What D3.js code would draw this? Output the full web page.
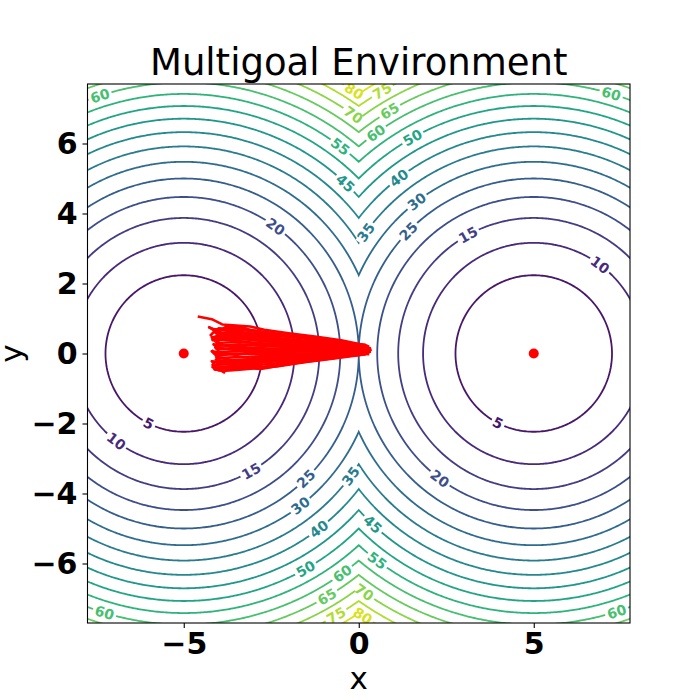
<!DOCTYPE html>
<html>
<head>
<meta charset="utf-8">
<script src="https://cdn.jsdelivr.net/npm/d3@7"></script>
<style>
  body { margin: 0; background: #fff; }
  text { font-family: "DejaVu Sans", sans-serif; }
</style>
</head>
<body>
<script>
// goal positions of the environment
var goals = [[-5, 0], [5, 0]];
var levels = [5, 10, 15, 20, 25, 30, 35, 40, 45, 50, 55, 60, 65, 70, 75, 80];
var xTicks = [-5, 0, 5];
var yTicks = [-6, -4, -2, 0, 2, 4, 6];

// where each contour label sits: [level, goal index, angle in degrees around that goal]
var labelSpots = [
  [80, 0, 57], [70, 0, 54.6], [55, 0, 52.9], [45, 0, 46.5], [20, 0, 54.1], [60, 0, 108],
  [5, 0, -116.6], [10, 0, -127.6], [15, 0, -60.2], [25, 0, -45.7], [35, 0, -36.3],
  [30, 0, -52.5], [40, 0, -52.4], [50, 0, -60.5], [60, 0, -54.2], [65, 0, -59.5],
  [75, 0, -59.8], [60, 0, -107],
  [75, 1, 120], [65, 1, 120.7], [60, 1, 125.6], [50, 1, 119.3], [40, 1, 127.5],
  [35, 1, 144.2], [30, 1, 127.6], [25, 1, 135.7], [15, 1, 119], [10, 1, 53.2],
  [5, 1, -117.2], [20, 1, -126.9], [60, 1, 73.4], [45, 1, -133.3], [55, 1, -127.1],
  [70, 1, -125.4], [80, 1, -123.1], [60, 1, -72.2]
];

// sampled trajectories (x, y)
var paths = [
  [[0.25,0.22],[-0.5,0.38],[-1.2,0.48],[-2.0,0.58],[-2.7,0.68],[-3.1,0.77],[-3.9,0.83],[-4.2,0.98],[-4.6,1.06]],
  [[0.3,0.2],[-0.5,0.34],[-1.3,0.45],[-2.0,0.52],[-2.9,0.6],[-3.3,0.74],[-3.8,0.76],[-4.0,0.62],[-4.3,0.76]],
  [[0.2,0.25],[-0.6,0.32],[-1.2,0.4],[-2.1,0.48],[-2.8,0.55],[-3.5,0.62],[-4.0,0.68],[-4.1,0.55]],
  [[0.15,0.18],[-0.4,0.25],[-1.1,0.33],[-1.9,0.40],[-2.7,0.48],[-3.4,0.55],[-4.0,0.6],[-3.9,0.45]],
  [[0.35,0.15],[-0.5,0.22],[-1.3,0.28],[-2.0,0.35],[-2.9,0.42],[-3.5,0.50],[-4.05,0.52],[-4.1,0.40]],
  [[0.1,0.12],[-0.6,0.18],[-1.2,0.25],[-2.1,0.30],[-2.8,0.36],[-3.6,0.44],[-4.0,0.38],[-4.1,0.3]],
  [[0.25,0.1],[-0.4,0.14],[-1.1,0.2],[-2.0,0.25],[-2.9,0.3],[-3.5,0.33],[-4.05,0.3],[-4.0,0.2]],
  [[0.3,0.08],[-0.5,0.1],[-1.3,0.15],[-2.1,0.19],[-2.8,0.22],[-3.4,0.26],[-4.0,0.22],[-4.1,0.12]],
  [[0.2,0.05],[-0.6,0.07],[-1.2,0.1],[-2.0,0.12],[-2.7,0.15],[-3.5,0.16],[-4.0,0.12],[-4.05,0.02]],
  [[0.15,0.02],[-0.5,0.04],[-1.1,0.05],[-1.9,0.06],[-2.8,0.08],[-3.4,0.07],[-4.05,0.04],[-4.0,-0.06]],
  [[0.35,0.05],[-0.4,0.0],[-1.2,0.0],[-2.0,0.0],[-2.9,0.0],[-3.6,-0.02],[-4.0,-0.05],[-4.1,-0.12]],
  [[0.25,0.0],[-0.5,-0.02],[-1.3,-0.04],[-2.1,-0.06],[-2.8,-0.08],[-3.4,-0.1],[-4.05,-0.13],[-3.95,-0.2]],
  [[0.1,-0.02],[-0.6,-0.05],[-1.2,-0.08],[-2.0,-0.12],[-2.7,-0.15],[-3.5,-0.18],[-4.0,-0.2],[-4.1,-0.28]],
  [[0.3,0.02],[-0.5,-0.06],[-1.1,-0.1],[-1.9,-0.16],[-2.8,-0.2],[-3.4,-0.24],[-4.05,-0.27],[-4.0,-0.35]],
  [[0.2,-0.03],[-0.4,-0.08],[-1.3,-0.13],[-2.0,-0.2],[-2.9,-0.26],[-3.6,-0.3],[-4.1,-0.33],[-4.0,-0.4]],
  [[0.0,-0.03],[-0.6,-0.1],[-1.2,-0.17],[-2.1,-0.26],[-2.8,-0.32],[-3.3,-0.34],[-3.9,-0.38],[-4.1,-0.42]],
  [[0.15,0.0],[-0.5,-0.1],[-1.0,-0.17],[-2.0,-0.3],[-2.7,-0.37],[-3.2,-0.39],[-3.8,-0.42],[-3.85,-0.54],[-4.05,-0.4]],
  [[0.3,0.12],[-0.5,0.16],[-1.2,0.2],[-2.0,0.28],[-2.8,0.4],[-3.3,0.48],[-3.9,0.7],[-4.1,0.66],[-4.3,0.76]],
  [[0.2,0.15],[-0.6,0.26],[-1.4,0.33],[-2.2,0.38],[-3.0,0.46],[-3.5,0.58],[-4.0,0.5],[-4.05,0.45]],
  [[0.1,0.08],[-0.5,0.12],[-1.2,0.18],[-2.0,0.22],[-2.8,0.28],[-3.5,0.36],[-4.1,0.42],[-3.95,0.26]],
  [[0.3,-0.02],[-0.6,0.02],[-1.3,0.06],[-2.1,0.09],[-2.8,0.11],[-3.5,0.1],[-4.1,0.18],[-4.0,0.08]],
  [[0.37,0.11],[-0.4,-0.04],[-1.2,-0.06],[-2.0,-0.09],[-2.9,-0.12],[-3.5,-0.22],[-4.0,-0.1],[-4.1,-0.2]],
  [[0.2,0.18],[-0.5,0.3],[-1.3,0.42],[-2.1,0.53],[-2.9,0.62],[-3.4,0.68],[-4.0,0.72],[-4.15,0.6]],
  [[0.25,0.12],[-0.6,0.2],[-1.4,0.3],[-2.2,0.42],[-3.0,0.54],[-3.6,0.66],[-4.2,0.7],[-4.0,0.58]],
  [[0.1,0.05],[-0.6,0.1],[-1.3,0.22],[-2.0,0.32],[-2.8,0.46],[-3.4,0.4],[-4.1,0.48],[-4.2,0.36]],
  [[0.3,0.04],[-0.5,0.08],[-1.2,0.12],[-2.2,0.2],[-3.0,0.24],[-3.6,0.2],[-4.15,0.26],[-4.0,0.14]],
  [[0.2,0.0],[-0.6,-0.03],[-1.4,-0.02],[-2.2,0.02],[-3.0,0.05],[-3.5,-0.04],[-4.2,0.06],[-4.05,-0.08]],
  [[0.3,0.06],[-0.4,-0.07],[-1.3,-0.12],[-2.2,-0.18],[-3.0,-0.28],[-3.6,-0.38],[-4.1,-0.46],[-4.2,-0.36]],
  [[0.05,-0.04],[-0.7,-0.14],[-1.5,-0.24],[-2.3,-0.36],[-2.9,-0.42],[-3.4,-0.46],[-3.9,-0.5],[-4.15,-0.44]],
  [[0.25,0.03],[-0.5,-0.08],[-1.4,-0.2],[-2.1,-0.32],[-2.8,-0.44],[-3.3,-0.4],[-4.0,-0.48],[-4.2,-0.3]],
  [[0.15,0.1],[-0.5,0.05],[-1.3,-0.02],[-2.0,-0.04],[-2.8,-0.02],[-3.5,0.0],[-4.1,-0.02],[-4.2,0.1]],
  [[0.3,0.16],[-0.6,0.28],[-1.5,0.42],[-2.3,0.56],[-3.0,0.66],[-3.5,0.7],[-4.1,0.66],[-4.25,0.5]],
  [[0.2,0.08],[-0.6,0.0],[-1.4,-0.08],[-2.1,-0.14],[-3.0,-0.18],[-3.7,-0.26],[-4.2,-0.22],[-4.1,-0.34]],
  [[0.1,0.14],[-0.7,0.2],[-1.5,0.27],[-2.4,0.34],[-3.1,0.4],[-3.7,0.52],[-4.2,0.46],[-4.1,0.34]]
];

var W = 700, H = 700;
var mLeft = 87.5, mRight = 630, mTop = 84, mBottom = 623;

var svg = d3.select("body").append("svg").attr("width", W).attr("height", H);

var x = d3.scaleLinear().domain([-7.75, 7.75]).range([mLeft, mRight]);
var y = d3.scaleLinear().domain([-7.7, 7.7]).range([mBottom, mTop]);
var color = function (v) { return d3.interpolateViridis(v / 85); };

svg.append("defs").append("clipPath").attr("id", "plotArea")
  .append("rect").attr("x", mLeft).attr("y", mTop)
  .attr("width", mRight - mLeft).attr("height", mBottom - mTop);

// cost grid: squared distance to the nearest goal
var step = 0.05, g0 = -8.5, n = Math.round(17 / step) + 1;
var grid = new Array(n * n);
for (var j = 0; j < n; j++) {
  for (var i = 0; i < n; i++) {
    var px = g0 + i * step, py = g0 + j * step;
    grid[j * n + i] = d3.min(goals, function (g) {
      return (px - g[0]) * (px - g[0]) + (py - g[1]) * (py - g[1]);
    });
  }
}
var contours = d3.contours().size([n, n]).thresholds(levels)(grid);
var toPlot = d3.geoTransform({
  point: function (gx, gy) {
    this.stream.point(x(g0 + (gx - 0.5) * step), y(g0 + (gy - 0.5) * step));
  }
});
var path = d3.geoPath(toPlot);

var plot = svg.append("g").attr("clip-path", "url(#plotArea)");
plot.selectAll("path.contour").data(contours).enter().append("path")
  .attr("class", "contour")
  .attr("d", path)
  .attr("fill", "none")
  .attr("stroke", function (d) { return color(d.value); })
  .attr("stroke-width", 1.8);

// contour labels, cut into the lines
var lab = plot.selectAll("g.clabel").data(labelSpots).enter().append("g")
  .attr("class", "clabel")
  .attr("transform", function (d) {
    var g = goals[d[1]], r = Math.sqrt(d[0]), a = d[2] * Math.PI / 180;
    var rot = 90 - d[2];
    while (rot > 90) rot -= 180;
    while (rot < -90) rot += 180;
    return "translate(" + x(g[0] + r * Math.cos(a)) + "," + y(g[1] + r * Math.sin(a)) + ") rotate(" + rot + ")";
  });
lab.append("rect")
  .attr("x", function (d) { return d[0] < 10 ? -7 : -12; })
  .attr("width", function (d) { return d[0] < 10 ? 14 : 24; })
  .attr("y", -4).attr("height", 8)
  .attr("fill", "#fff");
lab.append("text")
  .attr("text-anchor", "middle")
  .attr("dy", "0.36em")
  .attr("font-size", 14)
  .attr("font-weight", "bold")
  .attr("fill", function (d) { return color(d[0]); })
  .text(function (d) { return d[0]; });

// trajectories
var line = d3.line().x(function (d) { return x(d[0]); }).y(function (d) { return y(d[1]); });
plot.selectAll("path.traj").data(paths).enter().append("path")
  .attr("class", "traj")
  .attr("d", line)
  .attr("fill", "none")
  .attr("stroke", "#ff0000")
  .attr("stroke-width", 2.6)
  .attr("stroke-linejoin", "round");

// goals
plot.selectAll("circle.goal").data(goals).enter().append("circle")
  .attr("class", "goal")
  .attr("cx", function (d) { return x(d[0]); })
  .attr("cy", function (d) { return y(d[1]); })
  .attr("r", 5)
  .attr("fill", "#ff0000");

// axes
var xAxis = svg.append("g").attr("transform", "translate(0," + mBottom + ")")
  .call(d3.axisBottom(x).tickValues(xTicks).tickSize(5).tickPadding(5));
var yAxis = svg.append("g").attr("transform", "translate(" + mLeft + ",0)")
  .call(d3.axisLeft(y).tickValues(yTicks).tickSize(5).tickPadding(5));
[xAxis, yAxis].forEach(function (a) {
  a.select(".domain").remove();
  a.selectAll("line").attr("stroke", "#000").attr("stroke-width", 1.1);
  a.selectAll("text").attr("font-size", 30).attr("font-weight", "bold")
    .attr("fill", "#000").attr("font-family", "DejaVu Sans");
});

svg.append("rect").attr("x", mLeft).attr("y", mTop)
  .attr("width", mRight - mLeft).attr("height", mBottom - mTop)
  .attr("fill", "none").attr("stroke", "#000").attr("stroke-width", 1.1);

svg.append("text").attr("x", (mLeft + mRight) / 2).attr("y", 75)
  .attr("text-anchor", "middle").attr("font-size", 37)
  .text("Multigoal Environment");
svg.append("text").attr("x", (mLeft + mRight) / 2).attr("y", 689)
  .attr("text-anchor", "middle").attr("font-size", 31)
  .text("x");
svg.append("text").attr("transform", "translate(22," + ((mTop + mBottom) / 2) + ") rotate(-90)")
  .attr("text-anchor", "middle").attr("font-size", 31)
  .text("y");
</script>
</body>
</html>
